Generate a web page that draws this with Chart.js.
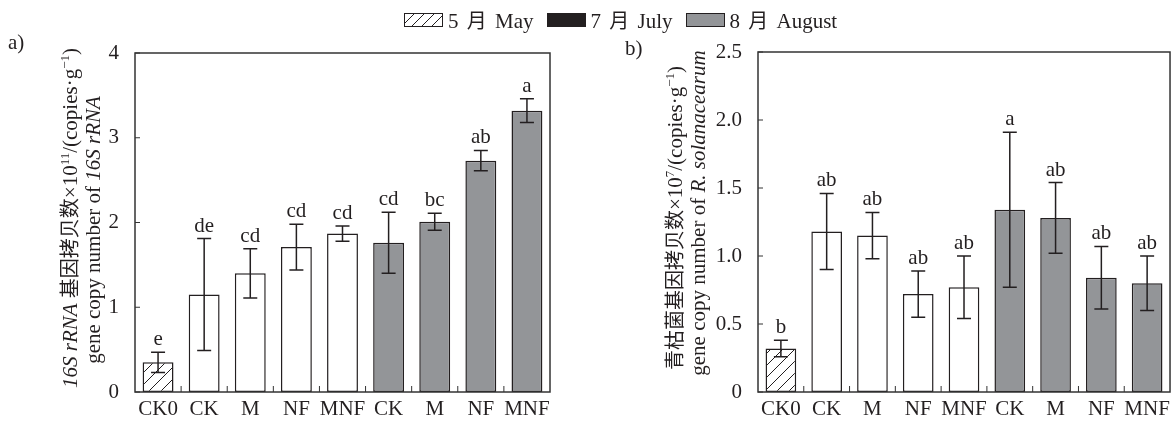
<!DOCTYPE html>
<html>
<head>
<meta charset="utf-8">
<script src="https://cdn.jsdelivr.net/npm/chart.js@4.4.0/dist/chart.umd.min.js"></script>
<style>
  body { margin: 0; background: #fff; }
  #wrap { position: relative; width: 1175px; height: 421px; font-family: "Liberation Serif", "Noto Sans CJK SC", serif; color: #231f20; }
  canvas { position: absolute; top: 0; }
  .legend { position: absolute; left: 404px; top: 5px; display: flex; align-items: center; font-size: 21px; white-space: nowrap; }
  .legend .box { width: 37px; height: 12px; border: 1px solid #231f20; margin-right: 5px; }
  .legend .txt { margin-right: 13px; }
  .legend .cjk { margin: 0 3px; }
  .ytitle { position: absolute; transform: translate(-50%, -50%) rotate(-90deg); white-space: nowrap; font-size: 21px; }
  .cjk { font-family: "Noto Sans CJK SC", sans-serif; font-size: 20px; }
  .panel { position: absolute; font-size: 21px; }
  sup { font-size: 13px; vertical-align: 8px; line-height: 0; }
</style>
</head>
<body>
<div id="wrap">
  <canvas id="chartA" width="560" height="421" style="left:0px"></canvas>
  <canvas id="chartB" width="595" height="421" style="left:580px"></canvas>

  <div class="legend">
    <div class="box" style="background: repeating-linear-gradient(135deg, #fff 0 6px, #231f20 6px 7px);"></div><span class="txt">5 <span class="cjk">月</span> May</span>
    <div class="box" style="background:#231f20"></div><span class="txt">7 <span class="cjk">月</span> July</span>
    <div class="box" style="background:#939598"></div><span class="txt">8 <span class="cjk">月</span> August</span>
  </div>

  <div class="panel" style="left:8px; top:30px">a)</div>
  <div class="panel" style="left:625px; top:36px">b)</div>

  <div class="ytitle" style="left:68px; top:218px"><i>16S rRNA</i> <span class="cjk">基因拷贝数</span>×10<sup>11</sup>/(copies·g<sup>−1</sup>)</div>
  <div class="ytitle" style="left:93px; top:230px">gene copy number of <i>16S rRNA</i></div>
  <div class="ytitle" style="left:673px; top:218px"><span class="cjk">青枯菌基因拷贝数</span>×10<sup>7</sup>/(copies·g<sup>−1</sup>)</div>
  <div class="ytitle" style="left:698px; top:213px">gene copy number of <i>R. solanacearum</i></div>
</div>

<script>
// categories and sampling month of each bar
const categories = ["CK0", "CK", "M", "NF", "MNF", "CK", "M", "NF", "MNF"];
const months = ["May", "July", "July", "July", "July", "August", "August", "August", "August"];

// a) 16S rRNA gene copies (x10^11 copies/g)
const meanA = [0.35, 1.15, 1.40, 1.71, 1.87, 1.76, 2.01, 2.73, 3.32];
const errA = [0.12, 0.66, 0.29, 0.27, 0.09, 0.36, 0.10, 0.12, 0.14];
const lettersA = ["e", "de", "cd", "cd", "cd", "cd", "bc", "ab", "a"];

// b) R. solanacearum gene copies (x10^7 copies/g)
const meanB = [0.32, 1.18, 1.15, 0.72, 0.77, 1.34, 1.28, 0.84, 0.80];
const errB = [0.06, 0.28, 0.17, 0.17, 0.23, 0.57, 0.26, 0.23, 0.20];
const lettersB = ["b", "ab", "ab", "ab", "ab", "a", "ab", "ab", "ab"];

const ink = "#231f20";
const fontFamily = "'Liberation Serif', 'Noto Sans CJK SC', serif";

// diagonal hatch for the May bar
function makeHatch() {
    const c = document.createElement("canvas");
    c.width = 12; c.height = 12;
    const g = c.getContext("2d");
    g.fillStyle = "#fff";
    g.fillRect(0, 0, 12, 12);
    g.strokeStyle = ink;
    g.lineWidth = 1;
    g.beginPath();
    g.moveTo(-1, 13); g.lineTo(13, -1);
    g.stroke();
    return g.createPattern(c, "repeat");
}
const hatch = makeHatch();

function barColour(month) {
    if (month === "May") return hatch;
    if (month === "July") return "#ffffff";
    return "#939598";
}

// frame, inward ticks, error bars and significance letters
const extrasPlugin = {
    id: "extras",
    afterDatasetsDraw(chart) {
        const ctx = chart.ctx;
        const area = chart.chartArea;
        const xs = chart.scales.x;
        const ys = chart.scales.y;
        const opts = chart.options.plugins.extras;
        const meta = chart.getDatasetMeta(0);

        ctx.save();
        // error bars
        ctx.strokeStyle = ink;
        ctx.lineWidth = 1.5;
        meta.data.forEach((bar, i) => {
            const m = opts.means[i];
            const hi = ys.getPixelForValue(m + opts.errs[i]);
            const lo = ys.getPixelForValue(m - opts.errs[i]);
            ctx.beginPath();
            ctx.moveTo(bar.x, hi); ctx.lineTo(bar.x, lo);
            ctx.moveTo(bar.x - 7, hi); ctx.lineTo(bar.x + 7, hi);
            ctx.moveTo(bar.x - 7, lo); ctx.lineTo(bar.x + 7, lo);
            ctx.stroke();

            ctx.fillStyle = ink;
            ctx.font = "21px " + fontFamily;
            ctx.textAlign = "center";
            ctx.textBaseline = "bottom";
            ctx.fillText(opts.letters[i], bar.x, hi - 2);
        });

        // frame
        ctx.lineWidth = 1.5;
        ctx.strokeStyle = "#333";
        ctx.strokeRect(area.left, area.top, area.right - area.left, area.bottom - area.top);

        // inward ticks between categories
        ctx.lineWidth = 1;
        ctx.beginPath();
        for (let i = 0; i < categories.length - 1; i++) {
            const x = (xs.getPixelForValue(i) + xs.getPixelForValue(i + 1)) / 2;
            ctx.moveTo(x, area.bottom); ctx.lineTo(x, area.bottom - 6);
        }
        ys.ticks.forEach(t => {
            const y = ys.getPixelForValue(t.value);
            ctx.moveTo(area.left, y); ctx.lineTo(area.left + 5, y);
        });
        ctx.stroke();
        ctx.restore();
    }
};

function drawPanel(canvasId, means, errs, letters, yMax, yStep, tickFmt, yWidth, padTop, padRight) {
    const el = document.getElementById(canvasId);
    return new Chart(el, {
        type: "bar",
        data: {
            labels: categories,
            datasets: [{
                data: means,
                backgroundColor: months.map(barColour),
                borderColor: ink,
                borderWidth: 1.5,
                borderSkipped: false,
                categoryPercentage: 1.0,
                barPercentage: 0.67,
            }]
        },
        options: {
            responsive: false,
            animation: false,
            devicePixelRatio: 1,
            layout: { padding: { top: padTop, right: padRight, bottom: 0, left: 0 } },
            plugins: {
                legend: { display: false },
                tooltip: { enabled: false },
                extras: { means: means, errs: errs, letters: letters },
            },
            scales: {
                x: {
                    grid: { display: false, drawTicks: false },
                    border: { display: false },
                    ticks: { color: ink, padding: 5, maxRotation: 0, autoSkip: false, font: { family: fontFamily, size: 21 } },
                    afterFit: (s) => { s.height = 29; },
                },
                y: {
                    min: 0,
                    max: yMax,
                    grid: { display: false },
                    border: { display: false },
                    ticks: { stepSize: yStep, color: ink, padding: 8, font: { family: fontFamily, size: 21 }, callback: tickFmt },
                    afterFit: (s) => { s.width = yWidth; },
                }
            }
        },
        plugins: [extrasPlugin],
    });
}

drawPanel("chartA", meanA, errA, lettersA, 4, 1, (v) => String(v), 135, 53, 10);
drawPanel("chartB", meanB, errB, lettersB, 2.5, 0.5, (v) => (v === 0 ? "0" : v.toFixed(1)), 178, 52, 2);
</script>
</body>
</html>
